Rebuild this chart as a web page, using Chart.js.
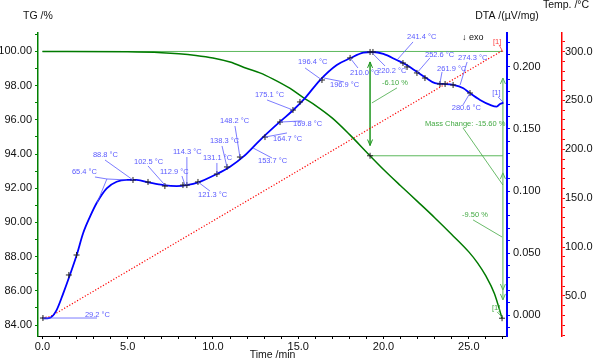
<!DOCTYPE html>
<html>
<head>
<meta charset="utf-8">
<script src="https://cdn.jsdelivr.net/npm/chart.js@4.4.1/dist/chart.umd.min.js"></script>
<style>
  html, body { margin: 0; padding: 0; background: #fff; }
  canvas { display: block; }
</style>
</head>
<body>
<canvas id="chart" width="593" height="360"></canvas>
<script>
// TG curve (time /min, mass /%)
const tgTime = [0, 5, 7, 8, 9, 10, 11, 12, 12.75, 13.5, 14.5, 15.3, 16, 17, 18, 19.21, 20, 21, 22, 23, 24, 25, 25.5, 26, 26.5, 26.95];
const tgValue = [100, 99.98, 99.93, 99.87, 99.77, 99.62, 99.38, 99.0, 98.75, 98.4, 97.85, 97.3, 96.85, 96.1, 95.15, 93.9, 93.1, 92.15, 91.22, 90.28, 89.3, 88.28, 87.65, 86.87, 85.85, 84.4];

// DTA curve (time /min, µV/mg)
const dtaTime = [0, 0.44, 0.83, 1.22, 1.61, 2.01, 2.39, 2.79, 3.18, 3.77, 4.35, 4.94, 5.52, 6.30, 7.09, 7.87, 8.46, 9.14, 10.22, 11.0, 11.78, 12.76, 13.93, 14.71, 15.30, 16.28, 17.26, 18.04, 18.82, 19.40, 19.99, 20.77, 21.36, 21.95, 22.53, 23.02, 23.51, 24.09, 24.68, 25.07, 25.66, 26.25, 26.64, 26.83, 27.03];
const dtaValue = [-0.0027, -0.0022, 0.0040, 0.0175, 0.0323, 0.0484, 0.0661, 0.0793, 0.0903, 0.1022, 0.1075, 0.1089, 0.1089, 0.1067, 0.1048, 0.1040, 0.1048, 0.1070, 0.1137, 0.1196, 0.1277, 0.1411, 0.1559, 0.1653, 0.1734, 0.1895, 0.2016, 0.2070, 0.2115, 0.2121, 0.2105, 0.2056, 0.2016, 0.1962, 0.1909, 0.1869, 0.1863, 0.1855, 0.1828, 0.1788, 0.1734, 0.1694, 0.1680, 0.1702, 0.1712];

// temperature programme (time /min, °C)
const tempTime = [0, 0.44, 2, 4, 6, 8, 10, 12, 14, 16, 18, 20, 22, 24, 26, 26.95];
const tempValue = [28.0, 28.7, 44.7, 65.2, 85.7, 106.3, 126.8, 147.3, 167.8, 188.4, 208.9, 229.4, 250.0, 270.5, 291.0, 300.7];

// evaluated points marked with + on the DTA curve
const markTime = [0.03, 1.55, 2.0, 5.31, 6.19, 7.18, 8.24, 8.47, 9.12, 10.23, 10.82, 11.58, 13.05, 13.93, 14.69, 15.1, 16.39, 18.04, 19.21, 19.38, 21.14, 21.38, 21.96, 22.43, 23.31, 23.61, 24.08, 25.07];
const markValue = [-0.0024, 0.0323, 0.0484, 0.1089, 0.1073, 0.1040, 0.1048, 0.1048, 0.1073, 0.1137, 0.1194, 0.1274, 0.1435, 0.1556, 0.1653, 0.1718, 0.1895, 0.2073, 0.2121, 0.2121, 0.2032, 0.2000, 0.1952, 0.1911, 0.1863, 0.1863, 0.1855, 0.1790];
const tgMarkTime = [19.21, 26.95];
const tgMarkValue = [93.9, 84.4];

// tick labels
const xTickLabels = [0, 5, 10, 15, 20, 25];
const tgTickLabels = [84, 86, 88, 90, 92, 94, 96, 98, 100];
const dtaTickLabels = [0, 0.05, 0.1, 0.15, 0.2];
const tempTickLabels = [50, 100, 150, 200, 250, 300];

// annotation texts, placed in data units of the axis they belong to
const dtaNotes = [
    { text: '29.2 °C', at: [2.49, 0.000], line: [[0.03, -0.0024], [3.2, -0.0024]] },
    { text: '65.4 °C', at: [1.73, 0.1153], line: [[3.08, 0.1113], [3.78, 0.1097], [4.96, 0.1089]] },
    { text: '', at: null, line: [[3.78, 0.1097], [3.2, 0.0903]] },
    { text: '88.8 °C', at: [2.96, 0.129], line: [[3.67, 0.125], [5.31, 0.1089]] },
    { text: '102.5 °C', at: [5.37, 0.1234], line: [[6.19, 0.1202], [7.18, 0.1048]] },
    { text: '112.9 °C', at: [6.89, 0.1153], line: [[8.18, 0.1121], [8.36, 0.1048]] },
    { text: '114.3 °C', at: [7.65, 0.1315], line: [[8.47, 0.1274], [8.47, 0.1048]] },
    { text: '121.3 °C', at: [9.12, 0.0968], line: [[9.12, 0.1073], [9.82, 0.1000]] },
    { text: '131.1 °C', at: [9.41, 0.1266], line: [[10.23, 0.1226], [10.23, 0.1137]] },
    { text: '138.3 °C', at: [9.82, 0.1403], line: [[10.53, 0.1363], [10.82, 0.1194]] },
    { text: '148.2 °C', at: [10.41, 0.1565], line: [[11.29, 0.1524], [11.58, 0.1274]] },
    { text: '153.7 °C', at: [12.64, 0.1242], line: [[12.35, 0.1347], [13.46, 0.1266]] },
    { text: '164.7 °C', at: [13.52, 0.1419], line: [[13.05, 0.1435], [14.34, 0.1468]] },
    { text: '169.8 °C', at: [14.69, 0.1540], line: [[13.93, 0.1556], [15.22, 0.1565]] },
    { text: '175.1 °C', at: [12.46, 0.1774], line: [[13.17, 0.1734], [14.69, 0.1653]] },
    { text: '196.4 °C', at: [14.99, 0.2040], line: [[15.40, 0.1992], [16.39, 0.1895]] },
    { text: '196.9 °C', at: [16.86, 0.1855], line: [[16.51, 0.1911], [17.68, 0.1879]] },
    { text: '210.0 °C', at: [18.04, 0.1952], line: [[18.04, 0.2073], [18.50, 0.1992]] },
    { text: '220.2 °C', at: [19.62, 0.1968], line: [[19.33, 0.2113], [20.09, 0.2008]] },
    { text: '241.4 °C', at: [21.38, 0.2242], line: [[21.73, 0.2202], [20.79, 0.2056]] },
    { text: '252.6 °C', at: [22.43, 0.2097], line: [[22.72, 0.2073], [21.96, 0.1952]] },
    { text: '261.9 °C', at: [23.14, 0.1984], line: [[23.43, 0.1960], [23.31, 0.1871]] },
    { text: '274.3 °C', at: [24.37, 0.2073], line: [[24.90, 0.2040], [24.49, 0.1855]] },
    { text: '280.6 °C', at: [24.00, 0.1669], line: [[24.66, 0.1694], [25.07, 0.1790]] },
    { text: '[1]', at: [26.37, 0.1790], line: [[26.72, 0.1758], [27.00, 0.1718]] }
];
const tgNotes = [
    { text: '-6.10 %', at: [19.91, 98.16], line: [[20.79, 97.87], [19.32, 96.99]] },
    { text: 'Mass Change: -15.60 %', at: [22.43, 95.76], line: [[24.66, 95.53], [27.0, 92.19]] },
    { text: '-9.50 %', at: [24.6, 90.44], line: [[25.25, 90.15], [26.95, 89.15]] },
    { text: '[1]', at: [26.36, 85.0], line: [[26.66, 84.77], [26.95, 84.47]] }
];
const tempNotes = [
    { text: '[1]', at: [26.42, 309.9], line: [[26.77, 306.9], [27.0, 299.7]] }
];

const FONT = '"Liberation Sans", Arial, sans-serif';
const near = (v, step) => Math.abs(v / step - Math.round(v / step)) < 1e-6;
const pairs = (xs, ys) => xs.map((x, i) => ({ x, y: ys[i] }));

function polyline(ctx, pts) {
    ctx.beginPath();
    pts.forEach(([x, y], i) => (i ? ctx.lineTo(x, y) : ctx.moveTo(x, y)));
    ctx.stroke();
}

function arrowHead(ctx, x, y, dir) {
    ctx.beginPath();
    ctx.moveTo(x - 2.5, y - dir * 6);
    ctx.lineTo(x, y);
    ctx.lineTo(x + 2.5, y - dir * 6);
    ctx.stroke();
}

const annotations = {
    id: 'annotations',
    beforeDatasetsDraw(chart) {
        const { ctx } = chart;
        const sx = chart.scales.x, sy = chart.scales.tg;
        const P = (t, v) => [sx.getPixelForValue(t), sy.getPixelForValue(v)];
        ctx.save();
        ctx.lineWidth = 1;
        ctx.strokeStyle = '#5cb85c';
        polyline(ctx, [P(0, 100), P(27.0, 100)]);
        polyline(ctx, [P(19.21, 93.9), P(27.0, 93.9)]);
        polyline(ctx, [P(27.0, 98.45), P(27.0, 85.47)]);
        [[98.45, -1], [92.9, -1], [86.05, 1], [85.47, 1]].forEach(([v, d]) => {
            const [x, y] = P(27.0, v);
            arrowHead(ctx, x, y, d);
        });
        ctx.strokeStyle = '#1e961e';
        ctx.lineWidth = 1.5;
        polyline(ctx, [P(19.21, 99.39), P(19.21, 94.5)]);
        ctx.lineWidth = 1;
        let [x, y] = P(19.21, 99.39);
        arrowHead(ctx, x, y, -1);
        [x, y] = P(19.21, 94.5);
        arrowHead(ctx, x, y, 1);
        ctx.restore();
    },
    afterDatasetsDraw(chart) {
        const { ctx } = chart;
        const sx = chart.scales.x;
        ctx.save();
        ctx.font = '7.5px ' + FONT;
        ctx.textBaseline = 'middle';
        ctx.textAlign = 'left';
        const drawNotes = (notes, axis, color) => {
            const sy = chart.scales[axis];
            const P = ([t, v]) => [sx.getPixelForValue(t), sy.getPixelForValue(v)];
            ctx.strokeStyle = color;
            ctx.fillStyle = color;
            ctx.lineWidth = 0.8;
            notes.forEach((n) => {
                polyline(ctx, n.line.map(P));
                if (n.at) {
                    const [x, y] = P(n.at);
                    ctx.fillText(n.text, x, y);
                }
            });
        };
        drawNotes(dtaNotes, 'dta', '#5a5aff');
        drawNotes(tgNotes, 'tg', '#44aa44');
        drawNotes(tempNotes, 'temp', '#ff4040');

        ctx.fillStyle = '#111';
        ctx.font = '9px ' + FONT;
        ctx.fillText('↓ exo', sx.getPixelForValue(24.6), chart.scales.dta.getPixelForValue(0.2234));
        ctx.restore();
    },
    afterDraw(chart) {
        const { ctx, chartArea } = chart;
        ctx.save();
        ctx.fillStyle = '#111';
        ctx.textBaseline = 'middle';
        ctx.textAlign = 'center';
        ctx.font = '10.5px ' + FONT;
        ctx.fillText('TG /%', chartArea.left, 16);
        ctx.fillText('DTA /(µV/mg)', chartArea.right, 16);
        ctx.fillText('Temp. /°C', chart.scales.temp.left + 4, 5);
        ctx.restore();
    }
};

const tickFont = { family: FONT, size: 11 };

new Chart(document.getElementById('chart'), {
    type: 'line',
    data: {
        datasets: [
            {
                label: 'DTA marks', data: pairs(markTime, markValue), yAxisID: 'dta', showLine: false,
                pointStyle: 'cross', pointRadius: 3, borderColor: '#222', borderWidth: 1
            },
            {
                label: 'TG marks', data: pairs(tgMarkTime, tgMarkValue), yAxisID: 'tg', showLine: false,
                pointStyle: 'cross', pointRadius: 3, borderColor: '#222', borderWidth: 1
            },
            {
                label: 'DTA', data: pairs(dtaTime, dtaValue), yAxisID: 'dta',
                borderColor: '#0000ff', borderWidth: 1.8, pointRadius: 0, cubicInterpolationMode: 'monotone'
            },
            {
                label: 'TG', data: pairs(tgTime, tgValue), yAxisID: 'tg',
                borderColor: '#007a00', borderWidth: 1.5, pointRadius: 0, cubicInterpolationMode: 'monotone'
            },
            {
                label: 'Temp.', data: pairs(tempTime, tempValue), yAxisID: 'temp',
                borderColor: '#ff0000', borderWidth: 1.2, borderDash: [1.2, 1.8], pointRadius: 0, tension: 0
            }
        ]
    },
    options: {
        responsive: false,
        animation: false,
        devicePixelRatio: 1,
        layout: { padding: { top: 33, left: 0, right: 0, bottom: 0 } },
        plugins: { legend: { display: false }, tooltip: { enabled: false } },
        scales: {
            x: {
                type: 'linear', position: 'bottom', min: -0.26, max: 27.24,
                afterFit: (s) => { s.height = 24; },
                border: { color: '#000', width: 1 },
                grid: { drawOnChartArea: false, tickLength: 3, tickColor: '#000' },
                ticks: {
                    stepSize: 1, includeBounds: false, autoSkip: false, maxRotation: 0, padding: 1,
                    color: '#111', font: tickFont,
                    callback: (v) => (xTickLabels.some((t) => Math.abs(t - v) < 1e-6) ? v.toFixed(1) : '')
                },
                title: { display: true, text: 'Time /min', color: '#111', font: { family: FONT, size: 10.5 }, padding: { top: 0, bottom: -1 } }
            },
            tg: {
                type: 'linear', position: 'left', min: 83.36, max: 101.08,
                afterFit: (s) => { s.width = 38; },
                border: { color: '#008000', width: 1.5 },
                grid: { drawOnChartArea: false, tickLength: 3, tickColor: '#008000' },
                ticks: {
                    stepSize: 1, includeBounds: false, autoSkip: false, padding: 3,
                    color: '#111', font: tickFont,
                    callback: (v) => (tgTickLabels.some((t) => Math.abs(t - v) < 1e-6) ? v.toFixed(2) : '')
                }
            },
            dta: {
                type: 'linear', position: 'right', min: -0.0169, max: 0.2274,
                afterFit: (s) => { s.width = 55; },
                border: { color: '#0000ff', width: 2 },
                grid: { drawOnChartArea: false, tickLength: 3, tickColor: '#0000ff' },
                ticks: {
                    stepSize: 0.01, includeBounds: false, autoSkip: false, padding: 3,
                    color: '#111', font: tickFont,
                    callback: (v) => (dtaTickLabels.some((t) => Math.abs(t - v) < 1e-6) ? v.toFixed(3) : '')
                }
            },
            temp: {
                type: 'linear', position: 'right', min: 9.1, max: 318.9,
                afterFit: (s) => { s.width = 31; },
                border: { color: '#ff0000', width: 1.5 },
                grid: { drawOnChartArea: false, tickLength: 3, tickColor: '#ff0000' },
                ticks: {
                    stepSize: 10, includeBounds: false, autoSkip: false, padding: 0,
                    color: '#111', font: tickFont,
                    callback: (v) => (tempTickLabels.some((t) => Math.abs(t - v) < 1e-6) ? v.toFixed(1) : '')
                }
            }
        }
    },
    plugins: [annotations]
});
</script>
</body>
</html>
